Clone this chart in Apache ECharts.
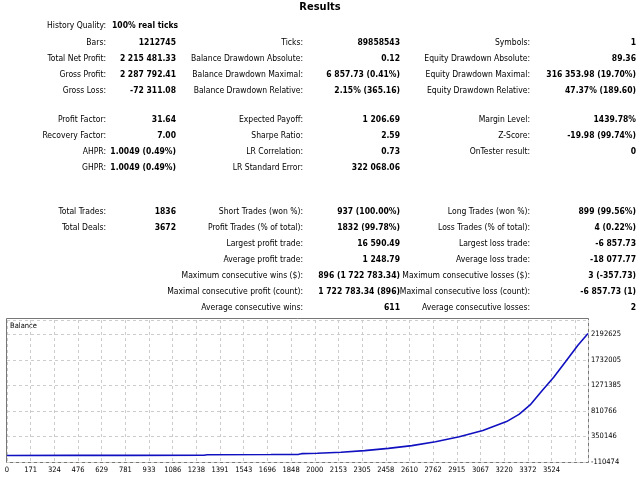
<!DOCTYPE html>
<html lang="en">
<head>
<meta charset="UTF-8">
<script src="https://cdn.jsdelivr.net/npm/echarts@6/dist/echarts.min.js"></script>
<style>
  html, body { margin: 0; padding: 0; background: #fff; }
  #main { width: 640px; height: 480px; }
</style>
</head>
<body>
<div id="main"></div>
<script>
// report rows: null = empty slot
var col1 = [
  ['History Quality:', '100% real ticks'], ['Bars:', '1212745'], ['Total Net Profit:', '2 215 481.33'],
  ['Gross Profit:', '2 287 792.41'], ['Gross Loss:', '-72 311.08'],
  ['Profit Factor:', '31.64'], ['Recovery Factor:', '7.00'], ['AHPR:', '1.0049 (0.49%)'], ['GHPR:', '1.0049 (0.49%)'], null,
  ['Total Trades:', '1836'], ['Total Deals:', '3672'], null, null, null, null, null
];
var col2 = [
  null, ['Ticks:', '89858543'], ['Balance Drawdown Absolute:', '0.12'], ['Balance Drawdown Maximal:', '6 857.73 (0.41%)'],
  ['Balance Drawdown Relative:', '2.15% (365.16)'],
  ['Expected Payoff:', '1 206.69'], ['Sharpe Ratio:', '2.59'], ['LR Correlation:', '0.73'], ['LR Standard Error:', '322 068.06'], null,
  ['Short Trades (won %):', '937 (100.00%)'], ['Profit Trades (% of total):', '1832 (99.78%)'], ['Largest profit trade:', '16 590.49'],
  ['Average profit trade:', '1 248.79'], ['Maximum consecutive wins ($):', '896 (1 722 783.34)'],
  ['Maximal consecutive profit (count):', '1 722 783.34 (896)'], ['Average consecutive wins:', '611']
];
var col3 = [
  null, ['Symbols:', '1'], ['Equity Drawdown Absolute:', '89.36'], ['Equity Drawdown Maximal:', '316 353.98 (19.70%)'],
  ['Equity Drawdown Relative:', '47.37% (189.60)'],
  ['Margin Level:', '1439.78%'], ['Z-Score:', '-19.98 (99.74%)'], ['OnTester result:', '0'], null, null,
  ['Long Trades (won %):', '899 (99.56%)'], ['Loss Trades (% of total):', '4 (0.22%)'], ['Largest loss trade:', '-6 857.73'],
  ['Average loss trade:', '-18 077.77'], ['Maximum consecutive losses ($):', '3 (-357.73)'],
  ['Maximal consecutive loss (count):', '-6 857.73 (1)'], ['Average consecutive losses:', '2']
];
var rowY = [26, 43, 59, 75, 91, 120, 136, 152, 168, 184, 212, 228, 244, 260, 276, 292, 308];

// balance curve (deal number, balance)
var deals   = [0, 400, 800, 1270, 1290, 1700, 1880, 1900, 2000, 2153, 2305, 2458, 2610, 2762, 2915, 3067, 3220, 3300, 3372, 3450, 3524, 3600, 3680, 3745];
var balance = [8000, 9000, 10000, 11000, 20000, 25000, 28000, 40000, 48000, 65000, 95000, 135000, 185000, 255000, 345000, 460000, 620000, 750000, 920000, 1180000, 1420000, 1700000, 2000000, 2210000];
var xLabels = ['0','171','324','476','629','781','933','1086','1238','1391','1543','1696','1848','2000','2153','2305','2458','2610','2762','2915','3067','3220','3372','3524',''];
var yBase = -110474, yStep = 460619.8;

var font = '"DejaVu Sans Condensed", "Liberation Sans", sans-serif';
var g = [{ type: 'text', left: 'center', top: 2, style: { text: 'Results', font: 'bold 11px ' + font, fill: '#000' } }];
function addCol(col, labelRight, valueRight) {
  col.forEach(function (r, i) {
    if (!r) return;
    g.push({ type: 'text', x: labelRight, y: rowY[i], style: { text: r[0], font: '8.5px ' + font, fill: '#000', align: 'right', verticalAlign: 'middle' } });
    var left = r[1] === '100% real ticks';
    g.push({ type: 'text', x: left ? 112 : valueRight, y: rowY[i], style: { text: r[1], font: 'bold 8.5px ' + font, fill: '#000', align: left ? 'left' : 'right', verticalAlign: 'middle' } });
  });
}
addCol(col1, 106, 176);
addCol(col2, 303, 400);
addCol(col3, 530, 636);
g.push({ type: 'rect', shape: { x: 6.5, y: 318.5, width: 582, height: 144 }, style: { fill: 'none', stroke: '#777', lineWidth: 1 } });
g.push({ type: 'text', x: 10, y: 322, style: { text: 'Balance', font: '7.5px ' + font, fill: '#000' } });

var myChart = echarts.init(document.getElementById('main'));
var option = {
  backgroundColor: '#fff',
  animation: false,
  graphic: g,
  grid: { left: 7, right: 52, top: 320, bottom: 18 },
  xAxis: {
    type: 'value', min: 0, max: 3745, interval: 152.6,
    axisLine: { show: false }, axisTick: { show: false },
    axisLabel: { fontSize: 7.5, fontFamily: font, color: '#000', margin: 4,
      formatter: function (v) { return xLabels[Math.round(v / 152.6)] || ''; } },
    splitLine: { show: true, lineStyle: { color: '#ccc', type: [3, 3] } }
  },
  yAxis: {
    type: 'value', position: 'right', min: 0, max: yStep * 5.57, interval: yStep,
    axisLine: { show: false }, axisTick: { show: false },
    axisLabel: { fontSize: 7.5, fontFamily: font, color: '#000', margin: 3, showMaxLabel: false,
      formatter: function (v) { return String(Math.round(v + yBase)); } },
    splitLine: { show: true, lineStyle: { color: '#ccc', type: [3, 3] } }
  },
  series: [{
    type: 'line', symbol: 'none',
    data: deals.map(function (d, i) { return [d, balance[i] - yBase]; }),
    lineStyle: { color: '#1010c0', width: 1.6 }
  }]
};
myChart.setOption(option);
</script>
</body>
</html>
